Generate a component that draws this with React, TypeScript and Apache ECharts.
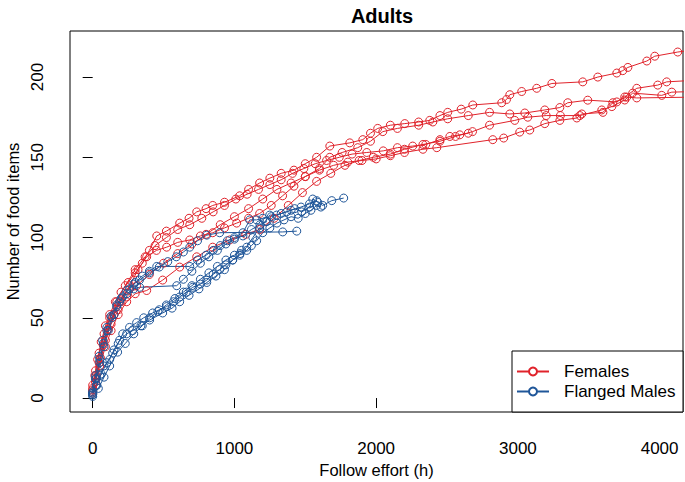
import React, { useEffect, useRef } from "react";
import * as echarts from "echarts";

const xTicks = [0, 1000, 2000, 3000, 4000];
const yTicks = [0, 50, 100, 150, 200];
const groupNames = ["Females", "Flanged Males"];

const female1: [number, number][] = [
  [0, 6], [15, 14], [35, 24], [60, 35], [90, 45], [120, 52], [160, 60], [200, 66], [250, 72], [300, 78],
  [350, 84], [400, 92], [452, 101], [520, 104], [614, 109], [680, 112], [734, 116], [800, 118], [847, 120],
  [930, 122], [1037, 126], [1100, 130], [1178, 134], [1250, 137], [1330, 140], [1420, 142], [1500, 146],
  [1580, 150], [1673, 157], [1814, 159], [1906, 161], [1960, 165], [2011, 168], [2100, 170], [2202, 171],
  [2300, 172], [2378, 173], [2450, 176], [2505, 178], [2600, 180], [2682, 182.6], [2886, 184], [2920, 186],
  [2943, 189], [3027, 191], [3133, 193], [3240, 196], [3458, 197], [3564, 200], [3698, 202.5], [3740, 204],
  [3776, 206], [3910, 210], [3966, 213], [4128, 215.6], [4250, 217],
];
const female2: [number, number][] = [
  [0, 4], [20, 12], [45, 22], [75, 33], [110, 43], [150, 52], [200, 60], [261, 70], [320, 80], [381, 88],
  [450, 92], [522, 94], [600, 97], [685, 98.5], [760, 101], [847, 103], [930, 106], [1016, 109], [1100, 112],
  [1178, 115], [1260, 120], [1340, 126], [1420, 132], [1500, 138], [1600, 143], [1673, 150], [1760, 153],
  [1870, 156], [1960, 160], [2047, 166], [2150, 168], [2300, 170], [2400, 172], [2505, 174], [2650, 176],
  [2800, 178], [2943, 177], [3049, 177.6], [3190, 179.5], [3296, 181], [3352, 184], [3493, 185.6],
  [3698, 184.5], [3754, 187.6], [3839, 193], [3987, 195], [4050, 197], [4250, 198],
];
const female3: [number, number][] = [
  [0, 3], [20, 10], [50, 20], [90, 32], [130, 42], [180, 52], [240, 60], [300, 65], [381, 67], [494, 73.5],
  [614, 81.6], [734, 88], [847, 94], [967, 98.5], [1080, 102], [1178, 105], [1280, 112], [1380, 120],
  [1480, 128], [1580, 135], [1680, 140], [1780, 145], [1880, 148], [1980, 150], [2100, 152], [2200, 155],
  [2330, 158], [2450, 160], [2560, 163], [2680, 166], [2800, 170], [2978, 173], [3070, 175], [3200, 176],
  [3300, 176], [3437, 176], [3592, 179.5], [3663, 181.6], [3754, 185.7], [3810, 190], [4015, 188.6],
  [4086, 190.6], [4250, 191],
];
const female4: [number, number][] = [
  [0, 5], [25, 14], [55, 25], [90, 36], [130, 46], [180, 55], [240, 63], [310, 70], [400, 77], [500, 84],
  [600, 90], [700, 96], [800, 102], [900, 108], [1000, 113], [1100, 118], [1200, 124], [1300, 130],
  [1400, 134], [1500, 138], [1600, 142], [1700, 145], [1800, 147], [1900, 148], [2000, 149], [2100, 151],
  [2200, 153], [2330, 155], [2428, 156], [2823, 161], [2900, 162], [3013, 165.7], [3084, 167], [3190, 171],
  [3296, 173], [3416, 174.5], [3451, 177], [3600, 178], [3670, 184], [3768, 187.5], [3839, 187], [4250, 187.5],
];
const female5: [number, number][] = [
  [0, 8], [20, 17], [45, 28], [80, 40], [120, 50], [170, 60], [230, 70], [300, 80], [370, 88], [440, 95],
  [520, 100], [600, 105], [685, 108], [770, 112], [850, 116], [930, 120], [1010, 124], [1090, 127],
  [1170, 130], [1250, 133], [1330, 136], [1410, 140], [1490, 143], [1570, 146], [1650, 148], [1740, 150],
  [1830, 152], [1934, 153], [2050, 154], [2150, 156], [2258, 157], [2350, 158], [2450, 161], [2520, 163],
  [2590, 164], [2650, 165],
];

const male1: [number, number][] = [
  [0, 2], [25, 8], [50, 14], [80, 20], [120, 24], [150, 30], [190, 36], [240, 40], [282, 42], [340, 45],
  [402, 48.6], [494, 53], [560, 56], [614, 60], [680, 64], [750, 68], [805, 72], [870, 76], [930, 80],
  [988, 86], [1040, 90], [1087, 94], [1130, 100], [1178, 106], [1220, 110], [1249, 114], [1298, 114],
  [1369, 116], [1425, 118], [1475, 116], [1531, 119], [1553, 124], [1588, 122], [1623, 120], [1687, 123],
  [1771, 124.6],
];
const male2: [number, number][] = [
  [0, 3], [20, 12], [50, 24], [75, 34], [100, 42], [135, 50], [170, 57], [200, 62], [240, 67], [290, 71],
  [330, 73.5], [400, 78], [470, 81.6], [530, 85], [590, 88], [640, 91], [685, 94], [740, 98], [805, 101.5],
  [896, 103], [1341, 103.5], [1440, 104],
];
const male3: [number, number][] = [
  [0, 2], [30, 8], [60, 15], [100, 22], [141, 28], [180, 34], [212, 40], [260, 44], [310, 47], [360, 50],
  [423, 53], [470, 55], [522, 57], [570, 60], [614, 63], [660, 66], [706, 69], [760, 71], [805, 73.5],
  [850, 77], [896, 80], [940, 83], [988, 86], [1037, 89], [1087, 92], [1120, 95], [1157, 98], [1200, 103],
  [1250, 106], [1300, 109], [1350, 111], [1400, 113], [1450, 112], [1500, 115], [1540, 117], [1580, 120],
  [1610, 119],
];
const male4: [number, number][] = [
  [0, 4], [20, 14], [45, 26], [70, 36], [100, 44], [130, 51], [170, 58], [210, 63], [260, 68], [300, 72],
  [350, 76], [400, 79], [452, 82], [685, 82], [740, 86], [800, 89], [850, 92], [900, 95], [950, 98],
  [1000, 100], [1060, 103], [1108, 111], [1157, 111], [1200, 112], [1260, 113], [1330, 115], [1400, 117],
  [1470, 119], [1530, 121], [1580, 123],
];
const male5: [number, number][] = [
  [0, 3], [25, 12], [50, 22], [80, 32], [110, 42], [150, 52], [190, 60], [240, 65], [290, 68], [332, 69],
  [593, 70], [640, 74], [700, 79], [760, 84], [820, 88], [880, 92], [940, 96], [1000, 99], [1060, 101],
  [1120, 105], [1180, 108], [1230, 110],
];
const male6: [number, number][] = [
  [0, 1], [40, 6], [80, 13], [120, 20], [176, 28.6], [230, 34], [290, 40], [350, 45], [402, 50], [460, 54],
  [520, 58], [580, 62], [640, 66], [700, 70], [760, 74], [820, 78], [880, 82], [940, 86], [1000, 89],
  [1050, 92],
];

const females = [female1, female2, female3, female4, female5];
const males = [male1, male2, male3, male4, male5, male6];

const RED = "#E0232B";
const BLUE = "#1F5699";
const FONT = "Liberation Sans, Arial, sans-serif";

export default function App() {
  const ref = useRef<HTMLDivElement>(null);
  useEffect(() => {
    if (!ref.current) return;
    const chart = echarts.init(ref.current, null, { renderer: "svg" });
    const mk = (name: string, data: [number, number][], color: string) => ({
      type: "line",
      name,
      data,
      symbol: "circle",
      symbolSize: 8,
      showSymbol: true,
      clip: true,
      z: 2,
      itemStyle: { color: "rgba(255,255,255,0)", borderColor: color, borderWidth: 1 },
      lineStyle: { color, width: 1 },
      emphasis: { disabled: true },
    });
    const series = [
      ...females.map((d) => mk(groupNames[0], d, RED)),
      ...males.map((d) => mk(groupNames[1], d, BLUE)),
    ];
    chart.setOption({
      animation: false,
      backgroundColor: "#ffffff",
      textStyle: { fontFamily: FONT },
      title: {
        text: "Adults",
        left: 377,
        top: 1,
        textAlign: "center",
        textStyle: { fontFamily: FONT, fontSize: 20, fontWeight: "bold", color: "#000" },
      },
      grid: {
        left: 70,
        right: 2,
        top: 31,
        bottom: 70,
        containLabel: false,
        outerBoundsMode: "none",
        show: true,
        borderColor: "#000",
        borderWidth: 1,
        backgroundColor: "transparent",
      },
      legend: {
        data: [
          {
            name: groupNames[0],
            itemStyle: { color: "#fff", borderColor: RED, borderWidth: 2 },
            lineStyle: { color: RED, width: 2 },
          },
          {
            name: groupNames[1],
            itemStyle: { color: "#fff", borderColor: BLUE, borderWidth: 2 },
            lineStyle: { color: BLUE, width: 2 },
          },
        ],
        orient: "vertical",
        left: 516,
        top: 363,
        padding: 0,
        z: 10,
        itemWidth: 32,
        itemHeight: 10,
        itemGap: 3,
        textStyle: { fontFamily: FONT, fontSize: 17, color: "#000", padding: [0, 0, 0, 10] },
      },
      graphic: [
        {
          type: "rect",
          shape: { x: 512, y: 351, width: 171, height: 61 },
          style: { fill: "#fff", stroke: "#000", lineWidth: 1 },
          z: 8,
        },
      ],
      xAxis: {
        type: "value",
        min: -160,
        max: 4165,
        name: "Follow effort (h)",
        nameLocation: "middle",
        nameGap: 47,
        nameTextStyle: { fontFamily: FONT, fontSize: 16.5, color: "#000" },
        axisLine: { show: false },
        splitLine: { show: false },
        axisTick: { show: true, length: 10, customValues: xTicks, lineStyle: { color: "#000" } },
        axisLabel: {
          customValues: xTicks,
          formatter: (v: number) => String(v),
          margin: 28,
          fontFamily: FONT,
          fontSize: 17,
          color: "#000",
        },
      },
      yAxis: {
        type: "value",
        min: -8.7,
        max: 228.7,
        name: "Number of food items",
        nameLocation: "middle",
        nameGap: 47,
        nameTextStyle: { fontFamily: FONT, fontSize: 16.5, color: "#000" },
        axisLine: { show: false },
        splitLine: { show: false },
        axisTick: { show: true, length: 10, customValues: yTicks, lineStyle: { color: "#000" } },
        axisLabel: {
          customValues: yTicks,
          formatter: (v: number) => String(v),
          rotate: 90,
          margin: 24,
          fontFamily: FONT,
          fontSize: 17,
          color: "#000",
        },
      },
      series,
    });
    return () => chart.dispose();
  }, []);
  return (
    <div
      ref={ref}
      style={{ position: "fixed", left: 0, top: 0, width: 685, height: 482, background: "#fff" }}
    />
  );
}
